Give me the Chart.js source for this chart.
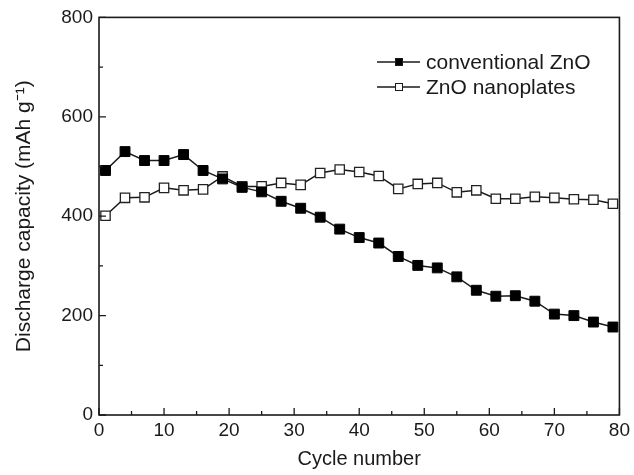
<!DOCTYPE html>
<html>
<head>
<meta charset="utf-8">
<script src="https://cdn.jsdelivr.net/npm/chart.js@4/dist/chart.umd.min.js"></script>
<style>
  html, body { margin: 0; padding: 0; background: #fff; }
  #wrap { width: 634px; height: 475px; }
</style>
</head>
<body>
<div id="wrap"><canvas id="chart"></canvas></div>
<script>
// cycle numbers (every 3rd cycle)
const cycles = [1, 4, 7, 10, 13, 16, 19, 22, 25, 28, 31, 34, 37, 40, 43, 46, 49, 52, 55, 58, 61, 64, 67, 70, 73, 76, 79];
const conventional = [492, 530, 512, 512, 524, 492, 475, 458, 449, 430, 416, 398, 374, 357, 346, 319, 301, 296, 278, 251, 239, 240, 229, 203, 200, 187, 177];
const nanoplates = [401, 437, 438, 457, 452, 454, 480, 460, 460, 467, 463, 487, 494, 489, 481, 455, 465, 467, 448, 452, 435, 435, 439, 437, 434, 433, 425];
const seriesNames = ['conventional ZnO', 'ZnO nanoplates'];
const xTicks = [0, 10, 20, 30, 40, 50, 60, 70, 80];
const yTicks = [0, 200, 400, 600, 800];

const FONT = 'Liberation Sans, Arial, sans-serif';
const INK = '#1a1a1a';

// box frame + inward major/minor ticks
const frameTicks = {
  id: 'frameTicks',
  afterDatasetsDraw(chart) {
    const { ctx, chartArea: a, scales: { x, y } } = chart;
    ctx.save();
    ctx.strokeStyle = INK;
    ctx.lineWidth = 1.6;
    ctx.strokeRect(a.left, a.top, a.right - a.left, a.bottom - a.top);
    ctx.lineWidth = 1.3;
    ctx.beginPath();
    for (let i = 0; i < xTicks.length; i++) {
      const px = x.getPixelForValue(xTicks[i]);
      ctx.moveTo(px, a.bottom); ctx.lineTo(px, a.bottom - 7);
      if (i < xTicks.length - 1) {
        const mx = x.getPixelForValue((xTicks[i] + xTicks[i + 1]) / 2);
        ctx.moveTo(mx, a.bottom); ctx.lineTo(mx, a.bottom - 4);
      }
    }
    for (let i = 0; i < yTicks.length; i++) {
      const py = y.getPixelForValue(yTicks[i]);
      ctx.moveTo(a.left, py); ctx.lineTo(a.left + 7, py);
      if (i < yTicks.length - 1) {
        const my = y.getPixelForValue((yTicks[i] + yTicks[i + 1]) / 2);
        ctx.moveTo(a.left, my); ctx.lineTo(a.left + 4, my);
      }
    }
    ctx.stroke();
    ctx.restore();
  }
};

// legend drawn inside the plot, top right
const insideLegend = {
  id: 'insideLegend',
  afterDraw(chart) {
    const { ctx } = chart;
    ctx.save();
    ctx.font = '21px ' + FONT;
    ctx.textBaseline = 'middle';
    chart.data.datasets.forEach((ds, i) => {
      const yy = 62 + i * 25;
      ctx.strokeStyle = INK;
      ctx.lineWidth = 1.4;
      ctx.beginPath();
      ctx.moveTo(377, yy); ctx.lineTo(420, yy);
      ctx.stroke();
      const s = 8;
      ctx.fillStyle = ds.pointBackgroundColor;
      ctx.fillRect(399 - s / 2, yy - s / 2, s, s);
      ctx.lineWidth = 1;
      ctx.strokeRect(399 - s / 2 + 0.5, yy - s / 2 + 0.5, s - 1, s - 1);
      ctx.fillStyle = INK;
      ctx.fillText(ds.label, 426, yy + 1);
    });
    ctx.restore();
  }
};

const ctx = document.getElementById('chart').getContext('2d');
new Chart(ctx, {
  type: 'line',
  data: {
    datasets: [
      {
        label: seriesNames[0],
        data: cycles.map((c, i) => ({ x: c, y: conventional[i] })),
        borderColor: INK,
        borderWidth: 1.5,
        pointStyle: 'rect',
        pointRadius: 7,
        pointBackgroundColor: '#000',
        pointBorderColor: '#000',
        pointBorderWidth: 1
      },
      {
        label: seriesNames[1],
        data: cycles.map((c, i) => ({ x: c, y: nanoplates[i] })),
        borderColor: INK,
        borderWidth: 1.5,
        pointStyle: 'rect',
        pointRadius: 6.6,
        pointBackgroundColor: '#fff',
        pointBorderColor: '#222',
        pointBorderWidth: 1.3
      }
    ]
  },
  options: {
    responsive: true,
    maintainAspectRatio: false,
    animation: false,
    layout: { padding: { top: 16, right: 11, left: 0, bottom: 0 } },
    plugins: {
      legend: { display: false },
      tooltip: { enabled: false }
    },
    scales: {
      x: {
        type: 'linear',
        min: 0, max: 80,
        afterBuildTicks: s => { s.ticks = xTicks.map(v => ({ value: v })); },
        afterFit: s => { s.height = 60; },
        grid: { display: false, drawTicks: false },
        border: { display: false },
        ticks: { color: INK, font: { family: FONT, size: 19 }, padding: 4, maxRotation: 0 },
        title: { display: true, text: 'Cycle number', color: INK, font: { family: FONT, size: 20 }, padding: { top: 0 } }
      },
      y: {
        min: 0, max: 800,
        afterBuildTicks: s => { s.ticks = yTicks.map(v => ({ value: v })); },
        afterFit: s => { s.width = 99; },
        grid: { display: false, drawTicks: false },
        border: { display: false },
        ticks: { color: INK, font: { family: FONT, size: 19 }, padding: 6 },
        title: { display: true, text: 'Discharge capacity (mAh g⁻¹)', color: INK, font: { family: FONT, size: 21 }, padding: { top: 12, bottom: 0 } }
      }
    }
  },
  plugins: [frameTicks, insideLegend]
});
</script>
</body>
</html>
